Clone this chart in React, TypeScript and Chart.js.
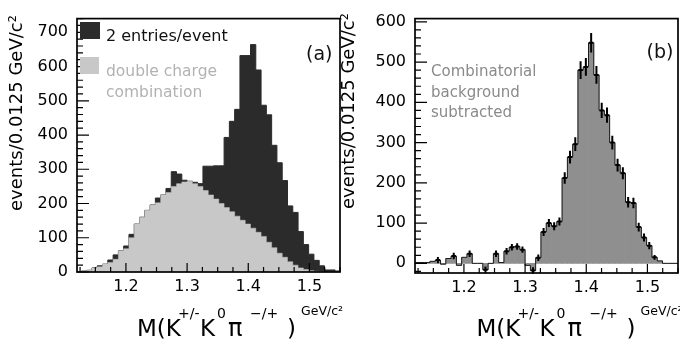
import React, { useEffect, useRef } from 'react';
import { Chart, registerables } from 'chart.js';

Chart.register(...registerables);

const FONT = '"DejaVu Sans", sans-serif';

// Shared x axis / binning (GeV/c^2)
const X_MIN = 1.12;
const X_MAX = 1.55;
const BIN_START = 1.1272;
const BIN_WIDTH = 0.00864;
const X_TICKS = [1.2, 1.3, 1.4, 1.5];
const X_TICK_LABELS = ['1.2', '1.3', '1.4', '1.5'];
const X_MINOR_STEP = 0.025;

// Panel (a)
const TOTAL_A = [
  3, 5, 12, 18, 23, 35, 50, 62, 76, 110, 140, 160, 180, 196, 216, 225, 244, 293, 286, 268,
  265, 262, 258, 309, 309, 310, 310, 393, 440, 475, 632, 632, 664, 590, 487, 459, 370, 319,
  267, 193, 174, 118, 80, 52, 34, 18, 6, 6, 3,
];
const DOUBLE_CHARGE_A = [
  3, 5, 12, 15, 23, 28, 37, 62, 68, 100, 140, 160, 180, 196, 202, 225, 232, 250, 258, 263,
  265, 258, 250, 238, 225, 213, 200, 188, 176, 163, 151, 140, 128, 116, 104, 87, 71, 55,
  43, 30, 20, 12, 7, 4, 2, 1, 0, 0, 0,
];
const Y_MIN_A = 0;
const Y_MAX_A = 740;
const Y_TICKS_A = [0, 100, 200, 300, 400, 500, 600, 700];
const Y_MINOR_STEP_A = 20;

// Panel (b)
const SUBTRACTED_B = [
  2, 2, 5, 8, -2, 12, 18, -5, 15, 24, 0, 0, -16, 0, 24, 2, 30, 40, 42, 34, -5, -18, 14, 78,
  100, 92, 104, 212, 264, 296, 480, 488, 548, 468, 380, 368, 300, 244, 224, 152, 150, 90, 64,
  44, 15, 6, 0, 0, 0,
];
const ERRORS_B = [
  0, 0, 0, 8, 0, 0, 8, 0, 0, 8, 0, 0, 8, 0, 8, 0, 8, 8, 8, 8, 0, 8, 8, 10, 10, 10, 10, 14,
  16, 17, 22, 22, 24, 22, 19, 19, 17, 16, 15, 13, 13, 11, 10, 9, 6, 0, 0, 0, 0,
];
const Y_MIN_B = -24;
const Y_MAX_B = 608;
const Y_TICKS_B = [0, 100, 200, 300, 400, 500, 600];
const Y_MINOR_STEP_B = 20;

const Y_TITLE = 'events/0.0125 GeV/c²';

type Part = { text: string; size: number; dx: number; dy: number };
const X_TITLE_PARTS: Part[] = [
  { text: 'M(K', size: 23, dx: 0, dy: 0 },
  { text: '+/-', size: 14, dx: 41, dy: -18.5 },
  { text: 'K', size: 23, dx: 63, dy: 0 },
  { text: '0', size: 14, dx: 80, dy: -18.5 },
  { text: 'π', size: 24, dx: 91, dy: 0 },
  { text: '−/+', size: 14, dx: 113, dy: -18.5 },
  { text: ')', size: 23, dx: 150, dy: 0 },
  { text: 'GeV/c²', size: 12.5, dx: 164, dy: -21.5 },
];

type TextItem = { text: string; x: number; y: number; size: number; color: string };
type Box = { x: number; y: number; w: number; h: number; color: string };

interface Decor {
  yMinor: { min: number; max: number; step: number };
  yTicks: number[];
  errors?: { values: number[]; errs: number[] };
  boxes: Box[];
  texts: TextItem[];
  xTitle: { x: number; y: number };
  yTitle: { x: number; y: number };
}

// Points at the left edge of every bin (plus the closing right edge) for a step outline.
function histPoints(vals: number[], startX?: number) {
  const pts = vals.map((v, i) => ({ x: BIN_START + i * BIN_WIDTH, y: v }));
  if (startX !== undefined) pts[0] = { x: startX, y: vals[0] };
  pts.push({ x: BIN_START + vals.length * BIN_WIDTH, y: vals[vals.length - 1] });
  return pts;
}

function barPoints(vals: number[]) {
  return vals.map((v, i) => ({ x: BIN_START + (i + 0.5) * BIN_WIDTH, y: v }));
}

function decorPlugin(d: Decor) {
  return {
    id: 'decor',
    afterDatasetsDraw(chart: any) {
      const ctx: CanvasRenderingContext2D = chart.ctx;
      const xs = chart.scales.x;
      const ys = chart.scales.y;
      const { left, right, top, bottom } = chart.chartArea;
      ctx.save();

      // error bars
      if (d.errors) {
        ctx.strokeStyle = '#000';
        ctx.lineWidth = 2;
        d.errors.values.forEach((v, i) => {
          const e = d.errors!.errs[i];
          if (!e) return;
          const x0 = BIN_START + i * BIN_WIDTH;
          const pl = xs.getPixelForValue(x0);
          const pr = xs.getPixelForValue(x0 + BIN_WIDTH);
          const pc = (pl + pr) / 2;
          ctx.beginPath();
          ctx.moveTo(pc, ys.getPixelForValue(v + e));
          ctx.lineTo(pc, ys.getPixelForValue(v - e));
          ctx.moveTo(pl + 0.5, ys.getPixelForValue(v));
          ctx.lineTo(pr - 0.5, ys.getPixelForValue(v));
          ctx.stroke();
        });
      }

      // ticks (inward)
      ctx.strokeStyle = '#000';
      ctx.lineWidth = 1.2;
      ctx.beginPath();
      for (let v = 1.125; v <= X_MAX + 1e-9; v += X_MINOR_STEP) {
        const major = X_TICKS.some((t) => Math.abs(t - v) < 1e-6);
        const px = xs.getPixelForValue(v);
        ctx.moveTo(px, bottom);
        ctx.lineTo(px, bottom - (major ? 9 : 5));
      }
      for (let v = d.yMinor.min; v <= d.yMinor.max + 1e-9; v += d.yMinor.step) {
        const major = d.yTicks.includes(v);
        const py = ys.getPixelForValue(v);
        ctx.moveTo(left, py);
        ctx.lineTo(left + (major ? 12 : 6), py);
      }
      ctx.stroke();

      // frame
      ctx.lineWidth = 1.7;
      ctx.strokeRect(left, top, right - left, bottom - top);

      // legend boxes
      d.boxes.forEach((b) => {
        ctx.fillStyle = b.color;
        ctx.fillRect(b.x, b.y, b.w, b.h);
      });

      // texts
      ctx.textBaseline = 'alphabetic';
      ctx.textAlign = 'left';
      d.texts.forEach((t) => {
        ctx.fillStyle = t.color;
        ctx.font = `${t.size}px ${FONT}`;
        ctx.fillText(t.text, t.x, t.y);
      });

      // x title
      ctx.fillStyle = '#000';
      X_TITLE_PARTS.forEach((p) => {
        ctx.font = `${p.size}px ${FONT}`;
        ctx.fillText(p.text, d.xTitle.x + p.dx, d.xTitle.y + p.dy);
      });

      // y title
      ctx.save();
      ctx.translate(d.yTitle.x, d.yTitle.y);
      ctx.rotate(-Math.PI / 2);
      ctx.font = `18px ${FONT}`;
      ctx.fillText(Y_TITLE, 0, 0);
      ctx.restore();

      ctx.restore();
    },
  };
}

function makeConfig(opts: {
  datasets: any[];
  yMin: number;
  yMax: number;
  yTicks: number[];
  padTop: number;
  padRight: number;
  xHeight: number;
  yWidth: number;
  decor: Decor;
}): any {
  return {
    type: 'line',
    data: { datasets: opts.datasets },
    options: {
      responsive: false,
      animation: false,
      devicePixelRatio: 1,
      layout: { padding: { top: opts.padTop, right: opts.padRight, left: 0, bottom: 0 } },
      plugins: { legend: { display: false }, tooltip: { enabled: false } },
      elements: { point: { radius: 0 } },
      scales: {
        x: {
          type: 'linear',
          min: X_MIN,
          max: X_MAX,
          offset: false,
          grid: { display: false, drawTicks: false, offset: false },
          border: { display: false },
          afterBuildTicks: (axis: any) => {
            axis.ticks = X_TICKS.map((v) => ({ value: v }));
          },
          afterFit: (axis: any) => {
            axis.height = opts.xHeight;
          },
          ticks: {
            autoSkip: false,
            maxRotation: 0,
            padding: 5,
            color: '#000',
            font: { family: FONT, size: 16 },
            callback: (v: number) => {
              const i = X_TICKS.findIndex((t) => Math.abs(t - v) < 1e-6);
              return i >= 0 ? X_TICK_LABELS[i] : '';
            },
          },
        },
        y: {
          type: 'linear',
          min: opts.yMin,
          max: opts.yMax,
          grid: { display: false, drawTicks: false },
          border: { display: false },
          afterBuildTicks: (axis: any) => {
            axis.ticks = opts.yTicks.map((v) => ({ value: v }));
          },
          afterFit: (axis: any) => {
            axis.width = opts.yWidth;
          },
          ticks: {
            padding: 9,
            color: '#000',
            font: { family: FONT, size: 16 },
            callback: (v: number) => String(v),
          },
        },
      },
    },
    plugins: [decorPlugin(opts.decor)],
  };
}

export default function App() {
  const refA = useRef<HTMLCanvasElement>(null);
  const refB = useRef<HTMLCanvasElement>(null);

  useEffect(() => {
    const cfgA = makeConfig({
      datasets: [
        {
          label: 'double charge combination',
          data: histPoints(DOUBLE_CHARGE_A),
          stepped: 'before',
          fill: 'origin',
          backgroundColor: '#c8c8c8',
          borderColor: '#c8c8c8',
          borderWidth: 0.5,
          pointRadius: 0,
        },
        {
          label: '2 entries/event',
          data: histPoints(TOTAL_A),
          stepped: 'before',
          fill: 'origin',
          backgroundColor: '#2b2b2b',
          borderColor: '#2b2b2b',
          borderWidth: 1,
          pointRadius: 0,
        },
      ],
      yMin: Y_MIN_A,
      yMax: Y_MAX_A,
      yTicks: Y_TICKS_A,
      padTop: 9,
      padRight: 10,
      xHeight: 67,
      yWidth: 77,
      decor: {
        yMinor: { min: 0, max: Y_MAX_A, step: Y_MINOR_STEP_A },
        yTicks: Y_TICKS_A,
        boxes: [
          { x: 80, y: 22, w: 20, h: 17, color: '#2b2b2b' },
          { x: 80, y: 57, w: 19, h: 17, color: '#c8c8c8' },
        ],
        texts: [
          { text: '2 entries/event', x: 106, y: 40.5, size: 16, color: '#111' },
          { text: 'double charge', x: 106, y: 76, size: 15.5, color: '#b2b2b2' },
          { text: 'combination', x: 106, y: 97, size: 15.5, color: '#b2b2b2' },
          { text: '(a)', x: 306, y: 60, size: 19, color: '#111' },
        ],
        xTitle: { x: 137, y: 336 },
        yTitle: { x: 22, y: 211 },
      },
    });

    const cfgB = makeConfig({
      datasets: [
        {
          type: 'line',
          label: 'outline',
          data: histPoints(SUBTRACTED_B, X_MIN),
          stepped: 'before',
          fill: false,
          borderColor: '#1a1a1a',
          borderWidth: 1,
          pointRadius: 0,
        },
        {
          type: 'bar',
          label: 'Combinatorial background subtracted',
          data: barPoints(SUBTRACTED_B),
          backgroundColor: '#8f8f8f',
          borderWidth: 0,
          barPercentage: 1,
          categoryPercentage: 1,
          grouped: false,
        },
      ],
      yMin: Y_MIN_B,
      yMax: Y_MAX_B,
      yTicks: Y_TICKS_B,
      padTop: 10,
      padRight: 2,
      xHeight: 66,
      yWidth: 75,
      decor: {
        yMinor: { min: -20, max: Y_MAX_B, step: Y_MINOR_STEP_B },
        yTicks: Y_TICKS_B,
        errors: { values: SUBTRACTED_B, errs: ERRORS_B },
        boxes: [],
        texts: [
          { text: 'Combinatorial', x: 91, y: 76, size: 15, color: '#8a8a8a' },
          { text: 'background', x: 91, y: 96.5, size: 15, color: '#8a8a8a' },
          { text: 'subtracted', x: 91, y: 116.5, size: 15, color: '#8a8a8a' },
          { text: '(b)', x: 306.5, y: 58, size: 19, color: '#111' },
        ],
        xTitle: { x: 136.5, y: 336 },
        yTitle: { x: 14, y: 209 },
      },
    });

    const a = new Chart(refA.current!, cfgA);
    const b = new Chart(refB.current!, cfgB);
    return () => {
      a.destroy();
      b.destroy();
    };
  }, []);

  return (
    <div
      style={{
        position: 'fixed',
        left: 0,
        top: 0,
        width: 680,
        height: 339,
        background: '#fff',
        overflow: 'hidden',
      }}
    >
      <canvas
        ref={refA}
        width={350}
        height={339}
        style={{ position: 'absolute', left: 0, top: 0, width: 350, height: 339 }}
      />
      <canvas
        ref={refB}
        width={340}
        height={339}
        style={{ position: 'absolute', left: 340, top: 0, width: 340, height: 339 }}
      />
    </div>
  );
}
